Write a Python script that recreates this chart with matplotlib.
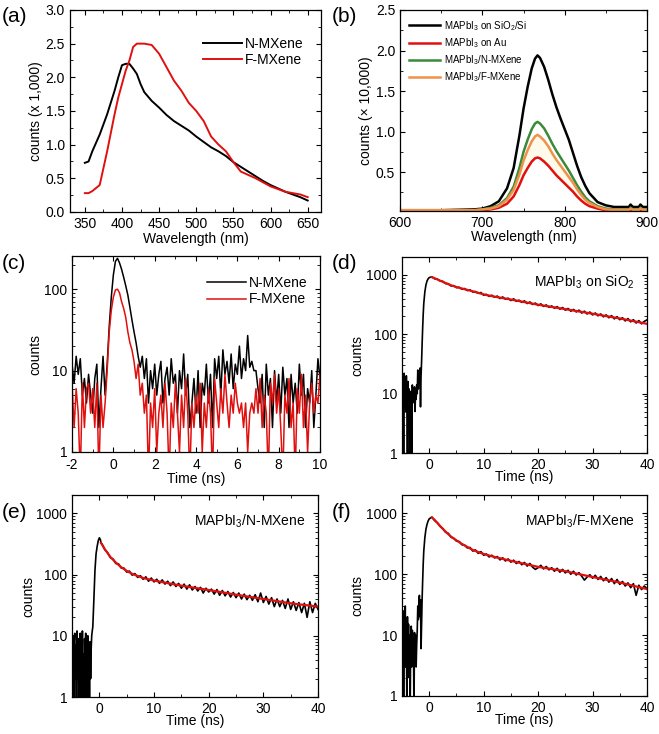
import numpy as np
import matplotlib
matplotlib.use('Agg')
import matplotlib.pyplot as plt
from matplotlib.ticker import MultipleLocator, LogLocator, NullFormatter

plt.rcParams['font.family'] = ['Liberation Sans', 'DejaVu Sans']
plt.rcParams['mathtext.fontset'] = 'custom'
plt.rcParams['mathtext.rm'] = 'Liberation Sans'
plt.rcParams['mathtext.it'] = 'Liberation Sans'
plt.rcParams['axes.unicode_minus'] = False
plt.rcParams['font.size'] = 10
for k in ('xtick', 'ytick'):
    plt.rcParams[k + '.direction'] = 'in'
    plt.rcParams[k + '.major.size'] = 3.5
    plt.rcParams[k + '.minor.size'] = 2
plt.rcParams['xtick.top'] = True
plt.rcParams['ytick.right'] = True
plt.rcParams['axes.linewidth'] = 0.9

# (a) PL of MXenes, counts x 1000
wl_a = [350, 355, 360, 370, 380, 390, 395, 400, 405, 410, 415, 420, 425, 430, 440, 450,
        460, 470, 480, 490, 500, 510, 520, 530, 540, 550, 560, 570, 580, 590, 600, 610,
        620, 630, 640, 650]
n_mx = [0.73, 0.75, 0.9, 1.15, 1.45, 1.8, 2.0, 2.18, 2.2, 2.2, 2.13, 2.05, 1.9, 1.78, 1.65, 1.55,
        1.44, 1.35, 1.28, 1.21, 1.12, 1.04, 0.96, 0.9, 0.83, 0.74, 0.67, 0.6, 0.53, 0.46, 0.4, 0.35,
        0.3, 0.26, 0.22, 0.17]
f_mx = [0.28, 0.28, 0.31, 0.4, 0.9, 1.45, 1.7, 1.9, 2.1, 2.25, 2.45, 2.5, 2.5, 2.5, 2.48, 2.35,
        2.15, 1.95, 1.8, 1.62, 1.5, 1.35, 1.12, 1.0, 0.9, 0.74, 0.6, 0.55, 0.5, 0.44, 0.38, 0.34,
        0.3, 0.28, 0.26, 0.22]

# (b) PL of MAPbI3 films, counts x 10000
wl_b = [600, 650, 690, 700, 710, 720, 730, 738, 742, 745, 750, 755, 760, 764, 767, 770, 775,
        780, 785, 790, 795, 800, 805, 810, 815, 820, 825, 830, 840, 850, 860, 870, 878, 880,
        883, 890, 892, 895, 900]
pl_sio2 = [0.03, 0.03, 0.04, 0.05, 0.08, 0.14, 0.3, 0.55, 0.78, 0.95, 1.28, 1.55, 1.78, 1.9, 1.94,
           1.91, 1.8, 1.64, 1.46, 1.3, 1.16, 1.03, 0.9, 0.74, 0.58, 0.44, 0.33, 0.24, 0.13, 0.09,
           0.07, 0.07, 0.07, 0.1, 0.07, 0.07, 0.1, 0.07, 0.07]
pl_nmx = [0.03, 0.03, 0.03, 0.04, 0.06, 0.09, 0.18, 0.32, 0.45, 0.55, 0.75, 0.9, 1.03, 1.1, 1.12,
          1.1, 1.04, 0.95, 0.85, 0.76, 0.68, 0.6, 0.52, 0.43, 0.34, 0.26, 0.19, 0.14, 0.08, 0.05,
          0.04, 0.04, 0.04, 0.06, 0.04, 0.04, 0.06, 0.04, 0.04]
pl_fmx = [0.03, 0.03, 0.03, 0.04, 0.05, 0.08, 0.16, 0.28, 0.39, 0.47, 0.64, 0.77, 0.88, 0.94, 0.96,
          0.94, 0.89, 0.82, 0.73, 0.65, 0.58, 0.51, 0.44, 0.37, 0.29, 0.22, 0.16, 0.12, 0.07, 0.04,
          0.035, 0.035, 0.035, 0.05, 0.035, 0.035, 0.05, 0.035, 0.035]
pl_au = [0.02, 0.02, 0.02, 0.03, 0.04, 0.06, 0.11, 0.2, 0.28, 0.34, 0.46, 0.55, 0.63, 0.67, 0.68,
         0.67, 0.63, 0.58, 0.52, 0.46, 0.41, 0.36, 0.31, 0.26, 0.2, 0.15, 0.11, 0.08, 0.05, 0.03,
         0.025, 0.025, 0.025, 0.04, 0.025, 0.025, 0.035, 0.025, 0.025]

# (c) TRPL of MXenes, 0.1 ns steps from -2 to 10 ns
t_c = np.round(np.arange(-2.0, 10.01, 0.1), 1)
trpl_n = [12, 7, 15, 9, 14, 5, 8, 4, 9, 5, 3, 8, 12, 2, 6, 15, 5, 12, 35, 80,
          150, 220, 240, 210, 175, 140, 110, 85, 60, 42, 30, 22, 15, 11, 15, 8, 14, 4, 10, 6,
          12, 5, 9, 13, 4, 8, 11, 5, 14, 7, 9, 3, 10, 6, 16, 5, 9, 2, 4, 8,
          3, 10, 2, 7, 5, 12, 4, 9, 2, 14, 8, 15, 5, 18, 9, 13, 7, 16, 6, 12,
          9, 20, 8, 14, 10, 27, 11, 13, 10, 10, 6, 4, 9, 2, 12, 5, 8, 2, 10, 4,
          9, 3, 11, 5, 8, 2, 9, 4, 7, 3, 12, 5, 9, 2, 6, 4, 10, 2, 5, 14, 8]
trpl_f = [7, 2, 6, 3, 0.5, 7, 2, 6, 7, 3, 6, 2, 7, 0.5, 5, 2, 4, 10, 30, 55,
          80, 98, 100, 90, 70, 58, 45, 30, 22, 18, 13, 8, 12, 5, 7, 3, 5, 0.5, 4, 2,
          6, 1, 3, 5, 2, 7, 3, 0.5, 4, 2, 7, 3, 1, 5, 2, 8, 3, 0.5, 4, 2,
          5, 3, 7, 1, 4, 2, 6, 3, 0.5, 8, 4, 2, 6, 3, 9, 4, 2, 5, 3, 7,
          4, 3, 4, 2, 4, 1, 3, 4, 3, 6, 3, 8, 2, 5, 3, 0.5, 7, 4, 9, 3,
          6, 2, 0.5, 5, 3, 8, 2, 4, 0.5, 6, 3, 9, 2, 5, 1, 4, 7, 3, 5, 4, 9]

# (d)-(f) TRPL of MAPbI3: pre-pulse (0.1 ns steps), rise, decay (0.5 ns steps) and fit
t_pre = np.round(np.arange(-5.0, -1.35, 0.1), 1)
t_dec = np.arange(0.5, 40.01, 0.5)
t_fit = [0.5, 1, 2, 3, 4, 5, 6, 8, 10, 12, 15, 20, 25, 30, 35, 40]

pre_d = [20, 3, 15, 0.5, 22, 8, 14, 5, 20, 9, 1, 16, 4, 12, 0.5, 10, 3, 11, 0.5, 14,
         7, 12, 9, 13, 5, 12, 8, 14, 10, 25, 12, 22, 15, 27, 6, 20, 35]
t_rise_d = [-1.3, -1.2, -1.1, -1.0, -0.8, -0.6, -0.4, -0.2, 0.0, 0.3]
rise_d = [70, 130, 220, 330, 520, 680, 790, 860, 900, 920]
dec_d = [930, 860, 850, 790, 780, 715, 710, 650, 660, 610, 620, 575, 590, 545, 560, 515,
         525, 490, 505, 455, 470, 435, 455, 420, 440, 400, 425, 390, 405, 370, 395, 360,
         375, 345, 365, 330, 350, 318, 335, 305, 325, 295, 312, 285, 300, 275, 292, 265,
         282, 255, 272, 245, 262, 238, 255, 228, 245, 220, 237, 212, 228, 205, 220, 197,
         212, 190, 206, 182, 198, 176, 190, 168, 184, 162, 176, 155, 170, 150, 165, 175]
fit_d = [915, 880, 800, 730, 670, 625, 590, 530, 470, 430, 385, 315, 265, 222, 185, 150]

pre_e = [12, 3, 10, 1, 8, 11, 2, 7, 0.5, 12, 4, 9, 0.5, 6, 2, 11, 1, 8, 3, 12,
         0.5, 5, 1, 9, 2, 11, 0.5, 7, 1, 10, 0.5, 4, 0.5, 8, 2, 6, 10]
t_rise_e = [-1.3, -1.2, -1.0, -0.8, -0.6, -0.4, -0.2, 0.0, 0.2, 0.3]
rise_e = [12, 14, 40, 120, 220, 290, 360, 400, 370, 330]
dec_e = [315, 255, 230, 190, 180, 152, 150, 128, 128, 110, 114, 98, 104, 90, 96, 84,
         92, 78, 88, 76, 84, 72, 82, 70, 78, 66, 76, 64, 72, 60, 70, 58,
         68, 56, 64, 54, 62, 50, 60, 52, 58, 48, 57, 46, 55, 45, 53, 43,
         51, 42, 50, 40, 48, 39, 46, 38, 47, 36, 50, 35, 44, 33, 42, 30,
         40, 30, 38, 28, 40, 27, 36, 26, 35, 24, 34, 20, 36, 24, 34, 27]
t_fit_e = [0.3, 1, 2, 3, 4, 5, 6, 8, 10, 12, 15, 20, 25, 30, 35, 40]
fit_e = [330, 260, 195, 158, 132, 115, 103, 88, 80, 74, 66, 56, 47, 40, 34, 30]

pre_f = [35, 4, 25, 0.5, 18, 6, 30, 3, 12, 0.5, 20, 5, 15, 2, 10, 0.5, 8, 14, 3, 12,
         5, 9, 0.5, 11, 6, 10, 3, 7, 12, 30, 18, 35, 45, 20, 38, 6, 15]
t_rise_f = [-1.3, -1.2, -1.1, -1.0, -0.8, -0.6, -0.4, -0.2, 0.0, 0.3]
rise_f = [40, 80, 150, 240, 400, 550, 660, 750, 810, 850]
dec_f = [860, 760, 700, 610, 560, 490, 470, 405, 390, 350, 345, 305, 300, 270, 275, 240,
         250, 220, 235, 205, 215, 192, 205, 185, 195, 172, 186, 165, 178, 158, 170, 150,
         162, 143, 156, 136, 150, 130, 120, 128, 140, 122, 134, 118, 128, 112, 125, 108,
         120, 105, 116, 100, 112, 97, 106, 93, 80, 90, 98, 86, 96, 82, 92, 78,
         88, 74, 85, 70, 82, 68, 76, 64, 72, 60, 70, 45, 66, 56, 64, 58]
fit_f = [860, 780, 620, 500, 415, 360, 315, 250, 215, 192, 166, 132, 112, 90, 73, 57]

RED = '#e0100f'

fig = plt.figure(figsize=(6.59, 7.34), dpi=100)
ax_a = fig.add_axes([0.1062, 0.7112, 0.381, 0.2752])
ax_b = fig.add_axes([0.607, 0.7125, 0.3748, 0.2739])
ax_c = fig.add_axes([0.1093, 0.3842, 0.3763, 0.267])
ax_d = fig.add_axes([0.61, 0.3828, 0.3718, 0.267])
ax_e = fig.add_axes([0.1093, 0.0504, 0.3733, 0.2752])
ax_f = fig.add_axes([0.61, 0.0518, 0.3718, 0.2738])

# (a)
ax = ax_a
ax.plot(wl_a, n_mx, color='black', lw=1.4, label='N-MXene')
ax.plot(wl_a, f_mx, color=RED, lw=1.4, label='F-MXene')
ax.set_xlim(330, 668)
ax.set_ylim(0, 3.0)
ax.xaxis.set_major_locator(MultipleLocator(50))
ax.xaxis.set_minor_locator(MultipleLocator(25))
ax.yaxis.set_major_locator(MultipleLocator(0.5))
ax.yaxis.set_minor_locator(MultipleLocator(0.25))
ax.yaxis.set_major_formatter(matplotlib.ticker.FormatStrFormatter('%.1f'))
ax.set_xlabel('Wavelength (nm)', labelpad=1)
ax.set_ylabel('counts (x 1,000)', labelpad=2)
ax.legend(loc='upper right', frameon=False, handlelength=2.8, handletextpad=0.2,
          labelspacing=0.15, bbox_to_anchor=(0.98, 0.93))

# (b)
ax = ax_b
ax.fill_between(wl_b, pl_au, pl_fmx, color='#fffaea', lw=0)
ax.plot(wl_b, pl_sio2, color='black', lw=1.8, label='MAPbI$_3$ on SiO$_2$/Si')
ax.plot(wl_b, pl_au, color=RED, lw=1.8, label='MAPbI$_3$ on Au')
ax.plot(wl_b, pl_nmx, color='#3a8a3a', lw=1.8, label='MAPbI$_3$/N-MXene')
ax.plot(wl_b, pl_fmx, color='#f0904a', lw=1.8, label='MAPbI$_3$/F-MXene')
ax.set_xlim(600, 900)
ax.set_ylim(0.02, 2.5)
ax.xaxis.set_major_locator(MultipleLocator(100))
ax.xaxis.set_minor_locator(MultipleLocator(50))
ax.set_yticks([0.5, 1.0, 1.5, 2.0, 2.5])
ax.yaxis.set_minor_locator(MultipleLocator(0.25))
ax.yaxis.set_major_formatter(matplotlib.ticker.FormatStrFormatter('%.1f'))
ax.set_xlabel('Wavelength (nm)', labelpad=0)
ax.set_ylabel('counts (\u00d7 10,000)', labelpad=2)
ax.legend(loc='upper left', frameon=False, fontsize=7, handlelength=3.2,
          handletextpad=0.4, labelspacing=0.35, bbox_to_anchor=(0.0, 1.0))

# (c)
ax = ax_c
ax.plot(t_c, trpl_n, color='black', lw=1.1, label='N-MXene')
ax.plot(t_c, trpl_f, color=RED, lw=1.1, label='F-MXene')
ax.set_yscale('log')
ax.set_xlim(-2, 10)
ax.set_ylim(1, 256)
ax.xaxis.set_major_locator(MultipleLocator(2))
ax.xaxis.set_minor_locator(MultipleLocator(1))
ax.set_yticks([1, 10, 100])
ax.set_yticklabels(['1', '10', '100'])
ax.yaxis.set_minor_locator(LogLocator(base=10, subs=np.arange(2, 10)))
ax.yaxis.set_minor_formatter(NullFormatter())
ax.tick_params(axis='x', pad=4)
ax.set_xlabel('Time (ns)', labelpad=0)
ax.set_ylabel('counts', labelpad=1)
ax.legend(loc='upper right', frameon=False, handlelength=2.8, handletextpad=0.2,
          labelspacing=0.15, bbox_to_anchor=(1.0, 0.96))

# (d)-(f)
panels = [
    (ax_d, pre_d, t_rise_d, rise_d, dec_d, t_fit, fit_d, 'MAPbI$_3$ on SiO$_2$'),
    (ax_e, pre_e, t_rise_e, rise_e, dec_e, t_fit_e, fit_e, 'MAPbI$_3$/N-MXene'),
    (ax_f, pre_f, t_rise_f, rise_f, dec_f, t_fit, fit_f, 'MAPbI$_3$/F-MXene'),
]
for ax, pre, t_rise, rise, dec, tf, fit, name in panels:
    t_all = list(t_pre) + t_rise + list(t_dec)
    y_all = pre + rise + dec
    ax.plot(t_all, y_all, color='black', lw=1.2)
    ax.plot(tf, fit, color=RED, lw=1.6)
    ax.set_yscale('log')
    ax.set_xlim(-5, 40)
    ax.set_ylim(1, 2000)
    ax.xaxis.set_major_locator(MultipleLocator(10))
    ax.xaxis.set_minor_locator(MultipleLocator(5))
    ax.set_yticks([1, 10, 100, 1000])
    ax.set_yticklabels(['1', '10', '100', '1000'])
    ax.yaxis.set_minor_locator(LogLocator(base=10, subs=np.arange(2, 10)))
    ax.yaxis.set_minor_formatter(NullFormatter())
    ax.set_xlabel('Time (ns)', labelpad=-1)
    ax.set_ylabel('counts', labelpad=1)
    ax.text(0.95, 0.87, name, transform=ax.transAxes, ha='right', va='center', fontsize=10)

# panel letters
for lab, x, y in [('(a)', 0.003, 0.978), ('(b)', 0.503, 0.978), ('(c)', 0.003, 0.641),
                  ('(d)', 0.503, 0.641), ('(e)', 0.003, 0.302), ('(f)', 0.503, 0.302)]:
    fig.text(x, y, lab, fontsize=15, ha='left', va='center')

fig.savefig('out.png', dpi=100)
